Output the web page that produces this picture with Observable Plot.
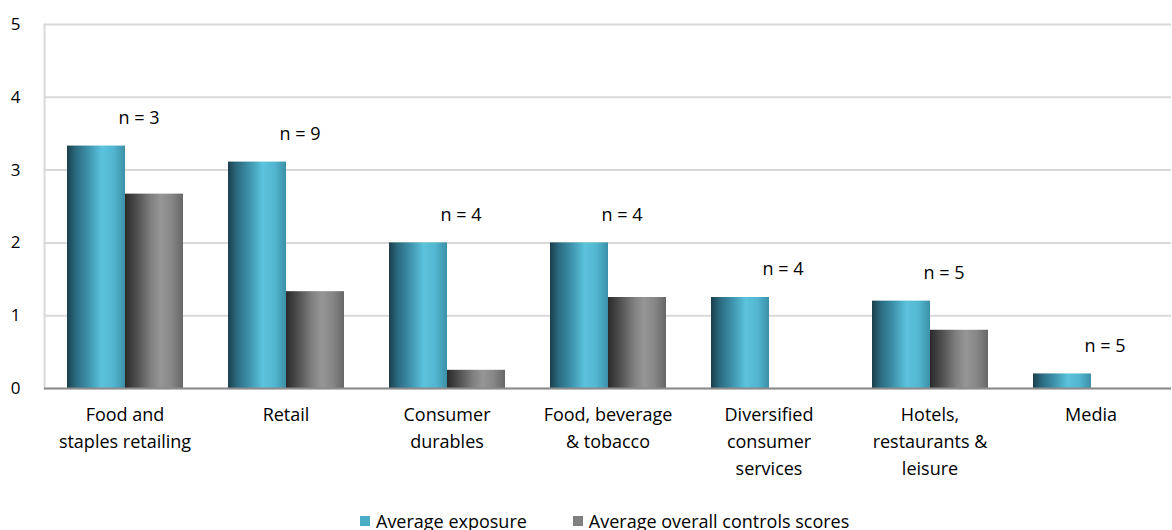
<!DOCTYPE html>
<html>
<head>
<meta charset="utf-8">
<script src="https://cdn.jsdelivr.net/npm/d3@7"></script>
<script src="https://cdn.jsdelivr.net/npm/@observablehq/plot@0.6"></script>
<style>
  html, body { margin: 0; padding: 0; background: #fff; overflow: hidden; }
  #chart svg { display: block; }
  .legend { display: flex; align-items: center; padding-left: 360px; margin-top: 23px;
            font: 18px "Open Sans", sans-serif; color: #000; line-height: 20px; }
  .legend .item { display: flex; align-items: center; margin-right: 46px; }
  .legend .sw { width: 10px; height: 10px; margin-right: 6px; }
</style>
</head>
<body>
<div id="chart"></div>
<div class="legend">
  <div class="item"><span class="sw" style="background:#4bacc6"></span>Average exposure</div>
  <div class="item"><span class="sw" style="background:#808080"></span>Average overall controls scores</div>
</div>
<script>
// Sector categories and their wrapped axis labels
const categories = [
  "Food and staples retailing", "Retail", "Consumer durables",
  "Food, beverage & tobacco", "Diversified consumer services",
  "Hotels, restaurants & leisure", "Media"
];
const tickLabels = [
  "Food and\nstaples retailing", "Retail", "Consumer\ndurables",
  "Food, beverage\n& tobacco", "Diversified\nconsumer\nservices",
  "Hotels,\nrestaurants &\nleisure", "Media"
];
const seriesNames = ["Average exposure", "Average overall controls scores"];
const exposure = [3.33, 3.11, 2.0, 2.0, 1.25, 1.2, 0.2];
const controls = [2.67, 1.33, 0.25, 1.25, 0, 0.8, 0];
const sampleSizes = [3, 9, 4, 4, 4, 5, 5];
const yTicks = [0, 1, 2, 3, 4, 5];

const rows = categories.flatMap((c, i) => [
  {category: c, series: seriesNames[0], value: exposure[i]},
  {category: c, series: seriesNames[1], value: controls[i]}
]);
const nRows = categories.map((c, i) => ({category: c, value: exposure[i], n: sampleSizes[i]}));

const fillFor = {
  [seriesNames[0]]: "url(#grad-exposure)",
  [seriesNames[1]]: "url(#grad-controls)"
};

const chart = Plot.plot({
  width: 1172,
  height: 488,
  marginTop: 24,
  marginLeft: 42,
  marginRight: 0,
  marginBottom: 100,
  style: {fontFamily: "'Open Sans', sans-serif", fontSize: "17px", color: "#000", background: "#fff"},
  fx: {domain: categories, padding: 0, label: null},
  x: {domain: seriesNames, paddingInner: 0, paddingOuter: 0.368, axis: null},
  y: {domain: [0, 5], axis: null, label: null},
  marks: [
    Plot.gridY(yTicks, {stroke: "#d9d9d9", strokeOpacity: 1, strokeWidth: 2}),
    Plot.frame({anchor: "left", stroke: "#d9d9d9", strokeWidth: 2, facet: "super"}),
    Plot.barY(rows, {fx: "category", x: "series", y: "value", fill: d => fillFor[d.series]}),
    Plot.ruleY([0], {stroke: "#8c8c8c", strokeWidth: 2}),
    Plot.text(nRows, {fx: "category", y: "value", text: d => `n = ${d.n}`, dx: 14, dy: -28,
                      fontSize: 18, fill: "#000"}),
    Plot.axisY(yTicks, {anchor: "left", tickSize: 0, tickPadding: 24, fontSize: 17,
                        label: null, tickFormat: d => String(d)}),
    Plot.axisFx({anchor: "bottom", tickSize: 0, tickPadding: 14, fontSize: 18, lineHeight: 1.48,
                 label: null, tickFormat: d => tickLabels[categories.indexOf(d)]})
  ]
});

// Horizontal shading used to give each bar a cylindrical look
const defs = d3.select(chart).insert("defs", ":first-child");
const gradients = {
  "grad-exposure": [[0, "#1b3f4b"], [0.15, "#2a6a7f"], [0.35, "#3c8fa8"], [0.6, "#5bc3dd"], [0.8, "#53b6d0"], [1, "#3b90a8"]],
  "grad-controls": [[0, "#2a2a2a"], [0.2, "#4e4e4e"], [0.45, "#808080"], [0.62, "#969696"], [0.8, "#878787"], [1, "#676767"]]
};
for (const [id, stops] of Object.entries(gradients)) {
  const g = defs.append("linearGradient").attr("id", id).attr("x1", 0).attr("x2", 1).attr("y1", 0).attr("y2", 0);
  for (const [o, c] of stops) g.append("stop").attr("offset", o).attr("stop-color", c);
}

document.getElementById("chart").appendChild(chart);
</script>
</body>
</html>
